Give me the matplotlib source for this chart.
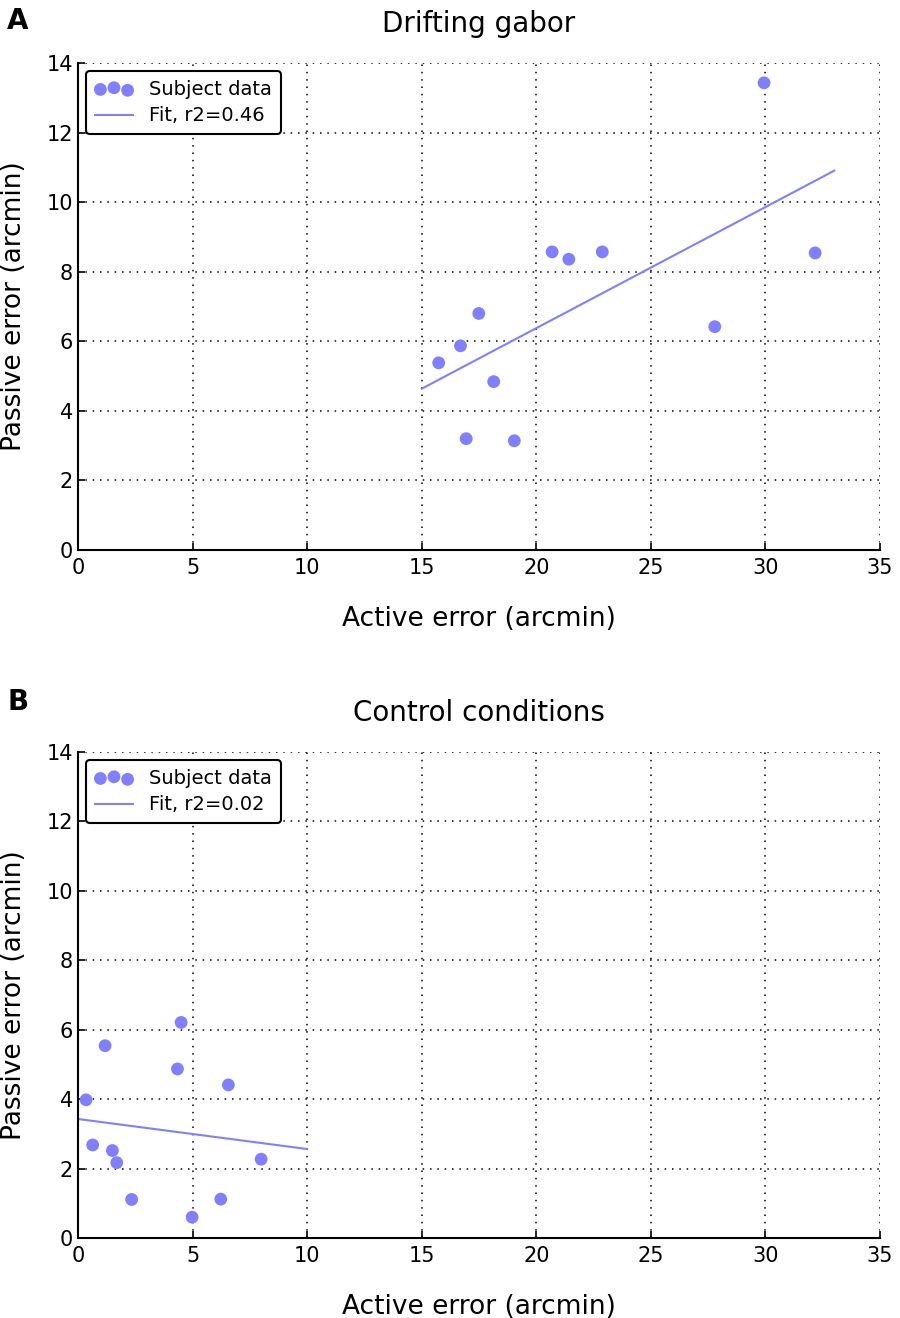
import numpy as np
import matplotlib
matplotlib.use('Agg')
import matplotlib.pyplot as plt

# Panel A: drifting gabor
gabor_active = [29.94, 20.69, 21.42, 22.88, 32.17, 17.49, 16.69, 15.74, 18.14, 27.79, 16.94, 19.04]
gabor_passive = [13.43, 8.57, 8.36, 8.57, 8.54, 6.80, 5.87, 5.38, 4.84, 6.42, 3.20, 3.14]
gabor_fit_range = [15, 33]
gabor_r2 = 0.46

# Panel B: control conditions
control_active = [0.35, 1.18, 4.50, 4.34, 6.56, 0.64, 1.50, 1.69, 7.99, 2.34, 6.23, 4.98]
control_passive = [3.98, 5.54, 6.21, 4.87, 4.41, 2.68, 2.52, 2.17, 2.27, 1.11, 1.12, 0.60]
control_fit_range = [0, 10]
control_r2 = 0.02

x_ticks = [0, 5, 10, 15, 20, 25, 30, 35]
y_ticks = [0, 2, 4, 6, 8, 10, 12, 14]

color = (0.5, 0.5, 1.0)

plt.rcParams['font.family'] = ['DejaVu Sans']

fig = plt.figure(figsize=(9, 13.18), dpi=100)


def panel(ax, xs, ys, fit_range, r2, title, letter, letter_y):
    ax.scatter(xs, ys, s=85, color=color, edgecolors='none', zorder=3, label='Subject data')
    slope, icpt = np.polyfit(xs, ys, 1)
    fx = np.array(fit_range)
    ax.plot(fx, slope * fx + icpt, color=color, lw=1.5, zorder=2, label='Fit, r2=%.2f' % r2)
    ax.set_xlim(0, 35)
    ax.set_ylim(0, 14)
    ax.set_xticks(x_ticks)
    ax.set_yticks(y_ticks)
    ax.grid(True, linestyle=(0, (1, 3.8)), color='black', lw=1.1)
    ax.set_axisbelow(True)
    for side in ('top', 'right'):
        ax.spines[side].set_visible(False)
    for side in ('left', 'bottom'):
        ax.spines[side].set_linewidth(1.5)
    ax.tick_params(direction='in', length=5, width=1.2, labelsize=15, top=False, right=False)
    ax.tick_params(axis='x', pad=6)
    ax.set_xlabel('Active error (arcmin)', fontsize=19, labelpad=20)
    ax.set_ylabel('Passive error (arcmin)', fontsize=19, labelpad=14)
    ax.set_title(title, fontsize=20, pad=22)
    leg = ax.legend(loc='upper left', fontsize=14, scatterpoints=3,
                    scatteryoffsets=[0.375, 0.5, 0.3125], borderaxespad=0.4,
                    handlelength=2.0, borderpad=0.45, labelspacing=0.4, fancybox=True)
    leg.get_frame().set_edgecolor('black')
    leg.get_frame().set_linewidth(1.5)
    leg.get_frame().set_alpha(1)
    fig.text(0.008, letter_y, letter, fontsize=20, fontweight='bold',
             va='baseline', ha='left')


ax_a = fig.add_axes([0.0867, 0.5827, 0.8911, 0.3695])
panel(ax_a, gabor_active, gabor_passive, gabor_fit_range, gabor_r2, 'Drifting gabor', 'A', 0.978)

ax_b = fig.add_axes([0.0867, 0.0607, 0.8911, 0.3687])
panel(ax_b, control_active, control_passive, control_fit_range, control_r2, 'Control conditions', 'B', 0.4613)

fig.savefig('out.png', dpi=100)
